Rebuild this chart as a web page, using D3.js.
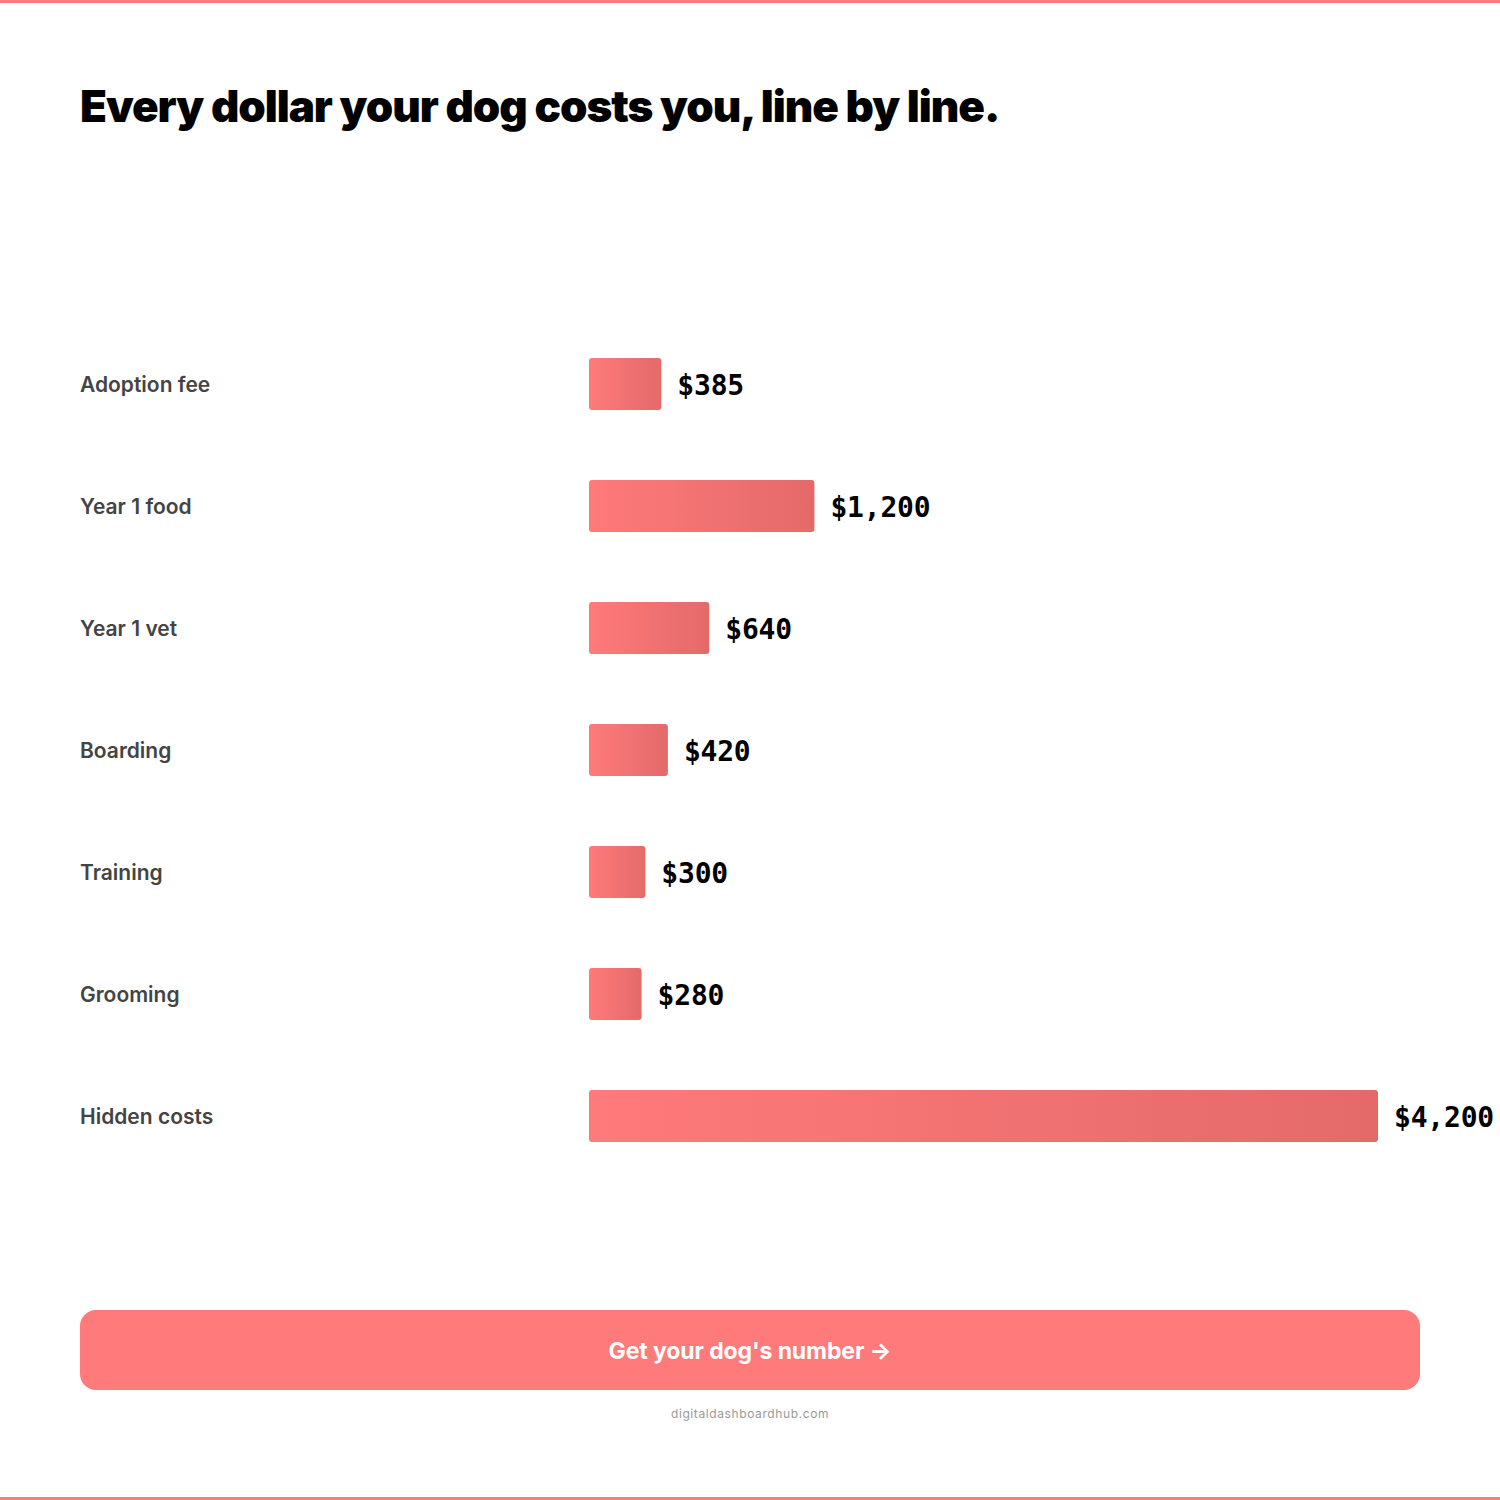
<!DOCTYPE html>
<html><head><meta charset="utf-8">
<script src="https://cdn.jsdelivr.net/npm/d3@7"></script>
<style>html,body{margin:0;padding:0;background:#fff;}svg{display:block;}</style>
</head><body>
<script>
const categories = ["Adoption fee","Year 1 food","Year 1 vet","Boarding","Training","Grooming","Hidden costs"];
const values = [385,1200,640,420,300,280,4200];
const valueLabels = ["$385","$1,200","$640","$420","$300","$280","$4,200"];
const titleText = "Every dollar your dog costs you, line by line.";
const buttonText = "Get your dog's number \u2192";
const footerText = "digitaldashboardhub.com";

const W = 1500, H = 1500;
const svg = d3.select("body").append("svg").attr("width", W).attr("height", H);
const defs = svg.append("defs");
const grad = defs.append("linearGradient").attr("id","barGrad").attr("x1","0%").attr("x2","100%").attr("y1","0%").attr("y2","0%");
grad.append("stop").attr("offset","0%").attr("stop-color","#ff7a7a");
grad.append("stop").attr("offset","100%").attr("stop-color","#e46a6a");

svg.append("rect").attr("x",0).attr("y",0).attr("width",W).attr("height",3).attr("fill","#ff7a7a");
svg.append("rect").attr("x",0).attr("y",H-3).attr("width",W).attr("height",3).attr("fill","#ff7a7a");

svg.append("text").attr("x",80).attr("y",122).text(titleText)
  .attr("font-family","Inter").attr("font-weight",900).attr("font-size",44)
  .attr("letter-spacing","-1.05").attr("fill","#000");

const x = d3.scaleLinear().domain([0,4200]).range([589,1378]);
const y = d3.scaleBand().domain(categories).range([323,1177]).paddingInner(70/122).paddingOuter(35/122);

const rows = svg.selectAll("g.row").data(categories).join("g").attr("class","row");
rows.append("text").attr("x",80).attr("y",d=>y(d)+y.bandwidth()/2).attr("dy","0.36em")
  .text(d=>d).attr("font-family","Inter").attr("font-weight",600).attr("font-size",21)
  .attr("letter-spacing","0").attr("fill","#444");
rows.append("rect").attr("x",x(0)).attr("y",d=>y(d)).attr("height",y.bandwidth())
  .attr("width",(d,i)=>x(values[i])-x(0)).attr("rx",3).attr("fill","url(#barGrad)");
rows.append("text").attr("x",(d,i)=>x(values[i])+16).attr("y",d=>y(d)+y.bandwidth()/2).attr("dy","0.4em")
  .text((d,i)=>valueLabels[i]).attr("font-family","DejaVu Sans Mono").attr("font-weight",700).attr("font-size",28)
  .attr("letter-spacing","-0.2").attr("fill","#000");

svg.append("rect").attr("x",80).attr("y",1310).attr("width",1340).attr("height",80).attr("rx",16).attr("fill","#ff7a7a");
svg.append("text").attr("x",750).attr("y",1351).attr("dy","0.35em").attr("text-anchor","middle").text(buttonText)
  .attr("font-family","Inter").attr("font-weight",700).attr("font-size",23).attr("letter-spacing","-0.1").attr("fill","#fff");
svg.append("text").attr("x",750).attr("y",1414).attr("dy","0.35em").attr("text-anchor","middle").text(footerText)
  .attr("font-family","Inter").attr("font-size",12).attr("letter-spacing","0.6").attr("fill","#999");
</script>
</body></html>
